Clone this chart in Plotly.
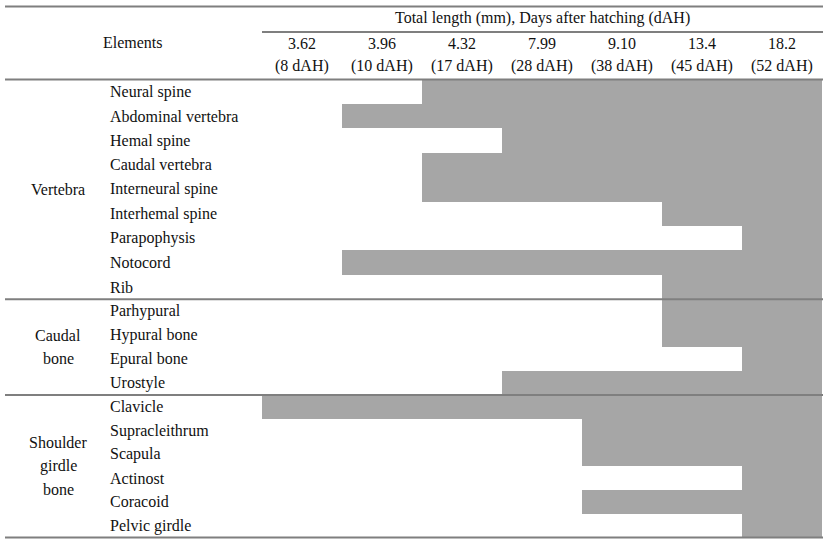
import plotly.graph_objects as go

# ---- data ----
stage_lengths = ["3.62", "3.96", "4.32", "7.99", "9.10", "13.4", "18.2"]
stage_days = ["(8 dAH)", "(10 dAH)", "(17 dAH)", "(28 dAH)", "(38 dAH)", "(45 dAH)", "(52 dAH)"]

groups = [["Vertebra"], ["Caudal", "bone"], ["Shoulder", "girdle", "bone"]]
vertebra_elements = ["Neural spine", "Abdominal vertebra", "Hemal spine", "Caudal vertebra",
                     "Interneural spine", "Interhemal spine", "Parapophysis", "Notocord", "Rib"]
caudal_elements = ["Parhypural", "Hypural bone", "Epural bone", "Urostyle"]
shoulder_elements = ["Clavicle", "Supracleithrum", "Scapula", "Actinost", "Coracoid", "Pelvic girdle"]

# index of first stage at which each element is observed (0 = 3.62 mm)
vertebra_first_stage = [2, 1, 3, 2, 2, 5, 6, 1, 5]
caudal_first_stage = [5, 5, 6, 3]
shoulder_first_stage = [0, 4, 4, 6, 4, 6]

# ---- layout geometry (pixels) ----
W, H = 827, 542
COL0, COLW = 262, 80
LEFT, RIGHT = 5, 823
TOP_LINE, SUB_LINE, HEAD_LINE = 6.5, 32, 79.5
group_bounds = [(79.5, 299.3), (299.3, 395.0), (395.0, 537.5)]
LABEL_SPACING = 23.5
GRAY = "#a6a6a6"
LINE = "#7f7f7f"
FONT = dict(family="Liberation Serif, Times New Roman, serif", size=16, color="#111")

group_elements = [vertebra_elements, caudal_elements, shoulder_elements]
group_first = [vertebra_first_stage, caudal_first_stage, shoulder_first_stage]
n_stages = len(stage_lengths)

fig = go.Figure()
annotations = []
shapes = []

row_y, row_h, row_base, row_len, row_names = [], [], [], [], []
for g, (lines, elems, firsts, (y0, y1)) in enumerate(zip(groups, group_elements, group_first, group_bounds)):
    h = (y1 - y0) / len(elems)
    for i, (e, f) in enumerate(zip(elems, firsts)):
        yc = y0 + h * (i + 0.5)
        row_y.append(yc)
        row_h.append(h)
        row_base.append(f)
        row_len.append(n_stages - f)
        row_names.append(e)
        annotations.append(dict(x=(108 - COL0) / COLW, y=yc, text=e, showarrow=False,
                                xanchor="left", yanchor="middle", font=FONT))
    mid = (y0 + y1) / 2
    for k, ln in enumerate(lines):
        yk = mid + (k - (len(lines) - 1) / 2) * LABEL_SPACING
        annotations.append(dict(x=(58 - COL0) / COLW, y=yk, text=ln, showarrow=False,
                                xanchor="center", yanchor="middle", font=FONT))

fig.add_trace(go.Bar(
    orientation="h", y=row_y, x=row_len, base=row_base, width=row_h,
    marker=dict(color=GRAY, line=dict(width=0)), text=row_names,
    hovertemplate="%{text}<extra></extra>", textposition="none",
))

# header texts
annotations.append(dict(x=n_stages / 2, y=18, text="Total length (mm), Days after hatching (dAH)",
                        showarrow=False, xanchor="center", yanchor="middle", font=FONT))
annotations.append(dict(x=(133 - COL0) / COLW, y=42, text="Elements",
                        showarrow=False, xanchor="center", yanchor="middle", font=FONT))
for i, (l, d) in enumerate(zip(stage_lengths, stage_days)):
    annotations.append(dict(x=i + 0.5, y=43, text=l, showarrow=False, xanchor="center",
                            yanchor="middle", font=FONT))
    annotations.append(dict(x=i + 0.5, y=66, text=d, showarrow=False, xanchor="center",
                            yanchor="middle", font=FONT))

def hline(x0, x1, y, w=2):
    shapes.append(dict(type="line", xref="x", yref="y", x0=x0, x1=x1, y0=y, y1=y,
                       line=dict(color=LINE, width=w), layer="above"))

xl = (LEFT - COL0) / COLW
xr = (RIGHT - COL0) / COLW
hline(xl, xr, TOP_LINE)
hline(0, xr, SUB_LINE)
hline(xl, xr, HEAD_LINE)
for (y0, y1) in group_bounds:
    hline(xl, xr, y1)

fig.update_layout(
    width=W, height=H, margin=dict(l=0, r=0, t=0, b=0),
    paper_bgcolor="white", plot_bgcolor="white", showlegend=False,
    xaxis=dict(range=[-COL0 / COLW, (W - COL0) / COLW], visible=False, fixedrange=True),
    yaxis=dict(range=[H, 0], visible=False, fixedrange=True),
    annotations=annotations, shapes=shapes, bargap=0,
)

fig.write_html("out.html", config={"displayModeBar": False},
               post_script="document.body.style.margin='0';document.body.style.overflow='hidden';")
